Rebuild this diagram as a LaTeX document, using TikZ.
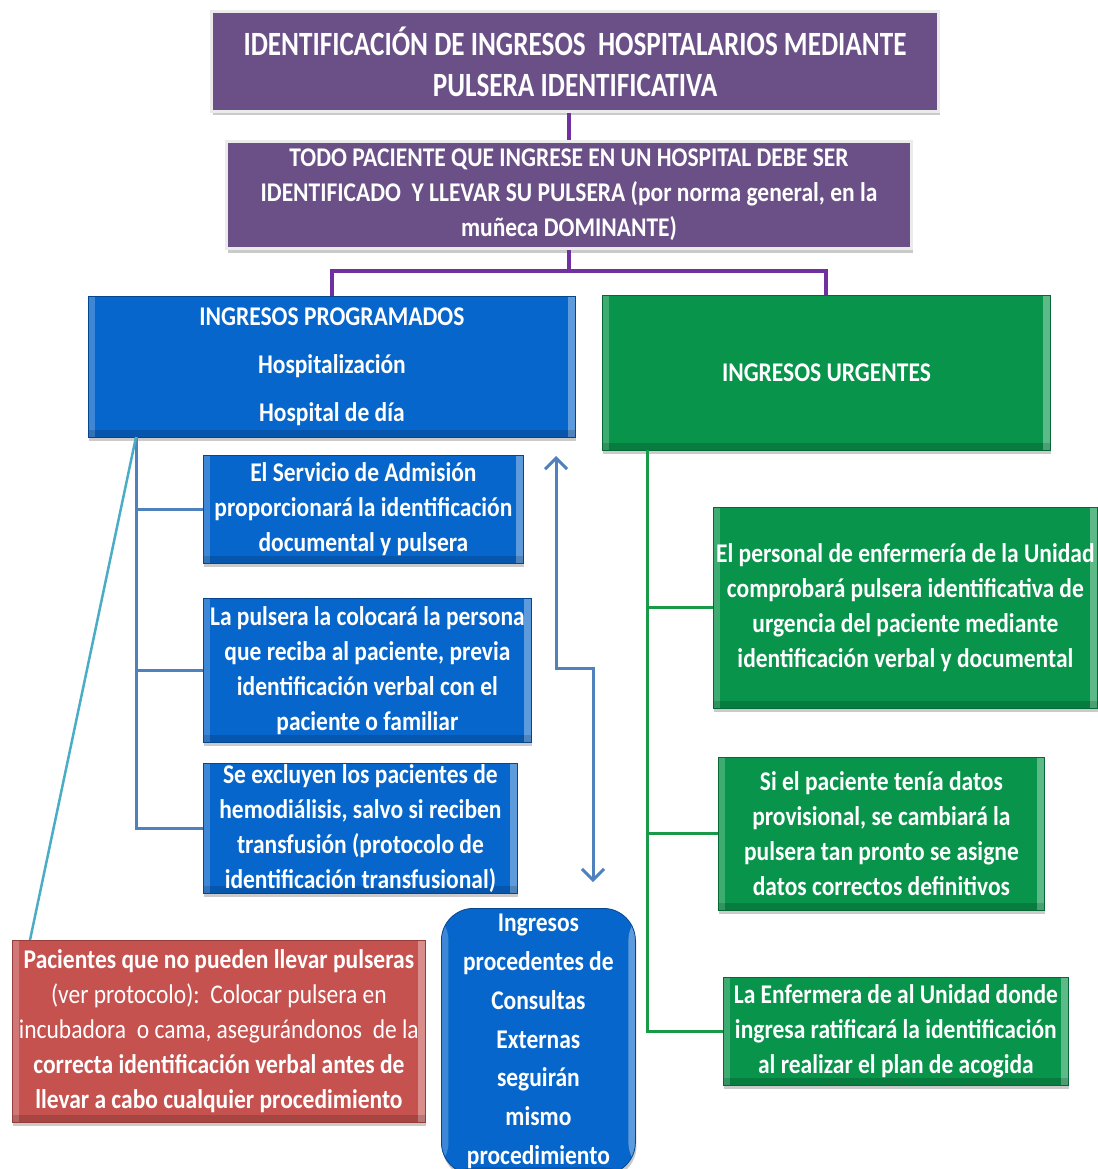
\documentclass[tikz,border=0pt]{standalone}
\usepackage{fontspec}
\setmainfont{Carlito}
\newfontfamily\cb[FakeStretch=0.87]{Carlito}
\newfontfamily\ct[FakeStretch=0.80]{Carlito}
\usetikzlibrary{arrows.meta,shadows}
\definecolor{purp}{HTML}{6B5087}
\definecolor{purpline}{HTML}{7030A0}
\definecolor{bluefill}{HTML}{0766CB}
\definecolor{greenfill}{HTML}{08944A}
\definecolor{redfill}{HTML}{C5524F}
\definecolor{steel}{HTML}{4F81BD}
\definecolor{cyanline}{HTML}{4BACC6}
\definecolor{greenline}{HTML}{1A9A48}
\begin{document}
\begin{tikzpicture}[x=1pt,y=-1pt,
  bev/.style={path picture={
    \fill[white,opacity=.22] (path picture bounding box.south west) rectangle ([xshift=#1]path picture bounding box.north west);
    \fill[white,opacity=.35] (path picture bounding box.south east) rectangle ([xshift=-#1]path picture bounding box.north east);
    \fill[black,opacity=.15] (path picture bounding box.south west) rectangle ([yshift=#1]path picture bounding box.south east);
  }},
  shad/.style={drop shadow={shadow xshift=1pt,shadow yshift=-4pt,opacity=0.35,fill=black!60}},
  box/.style={anchor=north west, inner sep=0pt, align=center, text=white,
    font=\cb\bfseries\fontsize{27}{35}\selectfont, shad},
  pbox/.style={box, fill=purp, draw=black!8, line width=3pt},
  bbox/.style={box, fill=bluefill, draw=bluefill!70!black, line width=0.8pt, bev=7pt},
  gbox/.style={box, fill=greenfill, draw=greenfill!70!black, line width=0.8pt, bev=7pt},
  rbox/.style={box, fill=redfill, draw=redfill!75!black, line width=0.8pt, bev=7pt},
  pconn/.style={draw=purpline, line width=4pt},
  bconn/.style={draw=steel, line width=3pt},
  gconn/.style={draw=greenline, line width=3pt},
  barb/.tip={Straight Barb[length=11pt,width=22pt,line width=3pt]}
]
\useasboundingbox (0,0) rectangle (1097,1169);

\node[pbox, minimum width=727pt, minimum height=100pt, font=\ct\bfseries\fontsize{34}{41}\selectfont] (title) at (210,10)
  {IDENTIFICACIÓN DE INGRESOS\ \ HOSPITALARIOS MEDIANTE\\PULSERA IDENTIFICATIVA};
\node[pbox, minimum width=685pt, minimum height=107pt] (box2) at (225,140)
  {TODO PACIENTE QUE\ INGRESE EN UN HOSPITAL DEBE SER\\IDENTIFICADO\ \ Y LLEVAR SU PULSERA (por norma general, en la\\muñeca DOMINANTE)};

\node[bbox, minimum width=487pt, minimum height=141pt, font=\cb\bfseries\fontsize{27}{48}\selectfont] (prog) at (88,296)
  {INGRESOS PROGRAMADOS\\Hospitalización\\Hospital de día};
\node[gbox, minimum width=448pt, minimum height=155pt] (urg) at (602,295)
  {INGRESOS URGENTES};

\node[bbox, minimum width=320pt, minimum height=108pt] (b1) at (203,455)
  {El Servicio de Admisión\\proporcionará la identificación\\documental y pulsera};
\node[bbox, minimum width=328pt, minimum height=144pt] (b2) at (203,598)
  {La pulsera la colocará la persona\\que reciba al paciente, previa\\identificación verbal con el\\paciente o familiar};
\node[bbox, minimum width=314pt, minimum height=130pt] (b3) at (203,763)
  {Se excluyen los pacientes de\\hemodiálisis, salvo si reciben\\transfusión (protocolo de\\identificación transfusional)};

\node[rbox, minimum width=413pt, minimum height=182pt] (red) at (12,940)
  {Pacientes que no pueden llevar pulseras\\
   {\mdseries(ver protocolo):\ \ Colocar pulsera en}\\
   {\mdseries incubadora\ \ o cama, asegurándonos\ \ de la}\\
   correcta identificación verbal antes de\\
   llevar a cabo cualquier procedimiento};

\node[bbox, minimum width=194pt, minimum height=266pt, rounded corners=32pt, font=\cb\bfseries\fontsize{27}{38.7}\selectfont] (ext) at (441,908)
  {Ingresos\\procedentes de\\Consultas\\Externas\\seguirán\\mismo\\procedimiento};

\node[gbox, minimum width=384pt, minimum height=201pt] (g1) at (713,507)
  {El personal de enfermería de la Unidad\\comprobará pulsera identificativa de\\urgencia del paciente mediante\\identificación verbal y documental};
\node[gbox, minimum width=326pt, minimum height=153pt] (g2) at (718,757)
  {Si el paciente tenía datos\\provisional, se cambiará la\\pulsera tan pronto se asigne\\datos correctos definitivos};
\node[gbox, minimum width=345pt, minimum height=108pt] (g3) at (723,977)
  {La Enfermera de al Unidad donde\\ingresa ratificará la identificación\\al realizar el plan de acogida};

% purple connectors
\draw[pconn] (box2.north) -- (box2.north |- title.south);
\draw[pconn] (box2.south) -- ++(0,21) -| (prog.north);
\draw[pconn] (box2.south) -- ++(0,21) -| (urg.north);

% blue tree
\coordinate (bt) at (136,437);
\draw[bconn] (bt) |- (b1.west);
\draw[bconn] (bt) |- (b2.west);
\draw[bconn] (bt) |- (b3.west);
\draw[draw=cyanline, line width=2.5pt] (bt) -- ([xshift=18pt]red.north west);

% double arrow
\coordinate (aup) at (556,456);
\coordinate (akink) at (593,668);
\coordinate (adn) at (593,882);
\draw[bconn, barb-barb] (aup) |- (akink) -- (adn);

% green tree
\coordinate (gt) at (647,450);
\draw[gconn] (gt) |- (g1.west);
\draw[gconn] (gt) |- (g2.west);
\draw[gconn] (gt) |- (g3.west);
\end{tikzpicture}
\end{document}
